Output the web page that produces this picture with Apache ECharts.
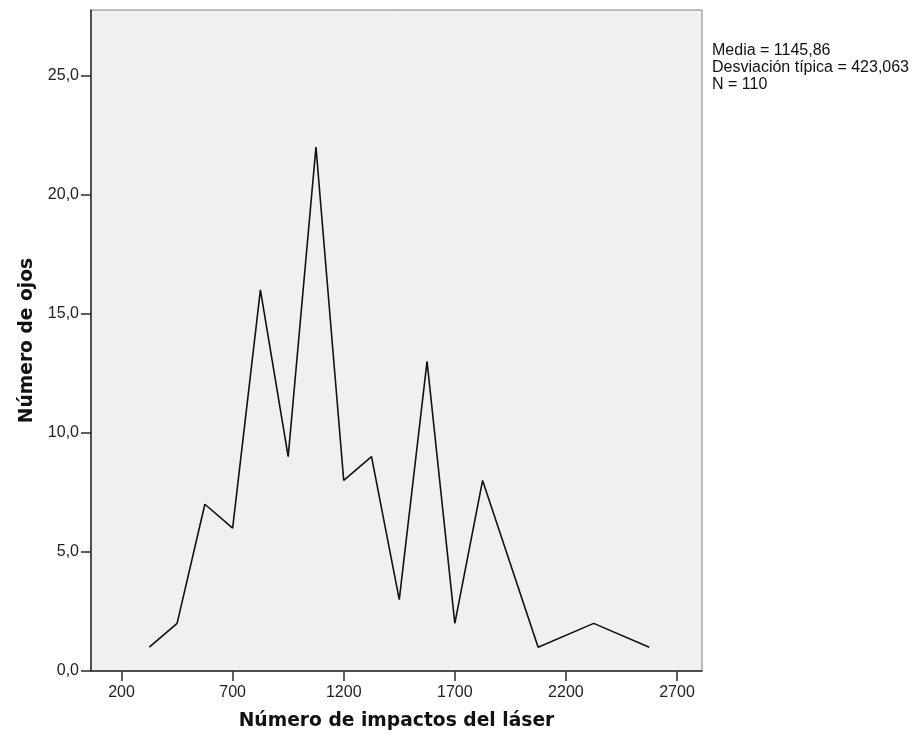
<!DOCTYPE html>
<html>
<head>
<meta charset="utf-8">
<script src="https://cdn.jsdelivr.net/npm/echarts@6/dist/echarts.min.js"></script>
<style>
  html, body { margin: 0; padding: 0; background: #ffffff; }
  #chart { width: 915px; height: 740px; }
</style>
</head>
<body>
<div id="chart"></div>
<script>
// Frequency polygon: bin midpoints (empty bins omitted) and eye counts
const binMidpoints = [325, 450, 575, 700, 825, 950, 1075, 1200, 1325, 1450, 1575, 1700, 1825, 2075, 2325, 2575];
const eyeCounts    = [1, 2, 7, 6, 16, 9, 22, 8, 9, 3, 13, 2, 8, 1, 2, 1];
const xTickValues  = [200, 700, 1200, 1700, 2200, 2700];
const yTickValues  = [0, 5, 10, 15, 20, 25];
const statsLines   = ['Media = 1145,86', 'Desviación típica = 423,063', 'N = 110'];
const xTitle = 'Número de impactos del láser';
const yTitle = 'Número de ojos';

const points = binMidpoints.map((x, i) => [x, eyeCounts[i]]);

const chart = echarts.init(document.getElementById('chart'), null, { renderer: 'canvas' });

const tickLabelStyle = {
  fontFamily: '"Liberation Sans", Arial, sans-serif',
  fontSize: 16,
  color: '#222'
};
const titleStyle = {
  fontFamily: '"DejaVu Sans", Verdana, sans-serif',
  fontWeight: 'bold',
  fontSize: 18.7,
  color: '#111'
};

chart.setOption({
  animation: false,
  backgroundColor: '#ffffff',
  grid: {
    left: 91, right: 213, top: 10, bottom: 69,
    show: true,
    backgroundColor: '#F0F0F0',
    borderColor: '#7f7f7f',
    borderWidth: 1
  },
  xAxis: {
    type: 'value',
    min: 62.5,
    max: 2812.5,
    name: xTitle,
    nameLocation: 'middle',
    nameGap: 41,
    nameTextStyle: titleStyle,
    axisLine: { show: true, onZero: false, lineStyle: { color: '#2b2b2b', width: 1.5 } },
    axisTick: { show: true, inside: false, length: 10, customValues: xTickValues, lineStyle: { color: '#2b2b2b', width: 1.5 } },
    axisLabel: Object.assign({
      customValues: xTickValues,
      margin: 14,
      formatter: v => String(v)
    }, tickLabelStyle),
    splitLine: { show: false }
  },
  yAxis: {
    type: 'value',
    min: 0,
    max: 27.75,
    name: yTitle,
    nameLocation: 'middle',
    nameGap: 54,
    nameTextStyle: titleStyle,
    axisLine: { show: true, onZero: false, lineStyle: { color: '#2b2b2b', width: 1.5 } },
    axisTick: { show: true, inside: false, length: 10, customValues: yTickValues, lineStyle: { color: '#2b2b2b', width: 1.5 } },
    axisLabel: Object.assign({
      customValues: yTickValues,
      margin: 12,
      formatter: v => v.toFixed(1).replace('.', ',')
    }, tickLabelStyle),
    splitLine: { show: false }
  },
  graphic: [{
    type: 'text',
    left: 712,
    top: 42,
    style: {
      text: statsLines.join('\n'),
      font: '16px "Liberation Sans", Arial, sans-serif',
      lineHeight: 17,
      fill: '#111'
    }
  }],
  series: [{
    type: 'line',
    data: points,
    symbol: 'none',
    lineStyle: { color: '#111', width: 1.6 },
    z: 3
  }]
});
</script>
</body>
</html>
